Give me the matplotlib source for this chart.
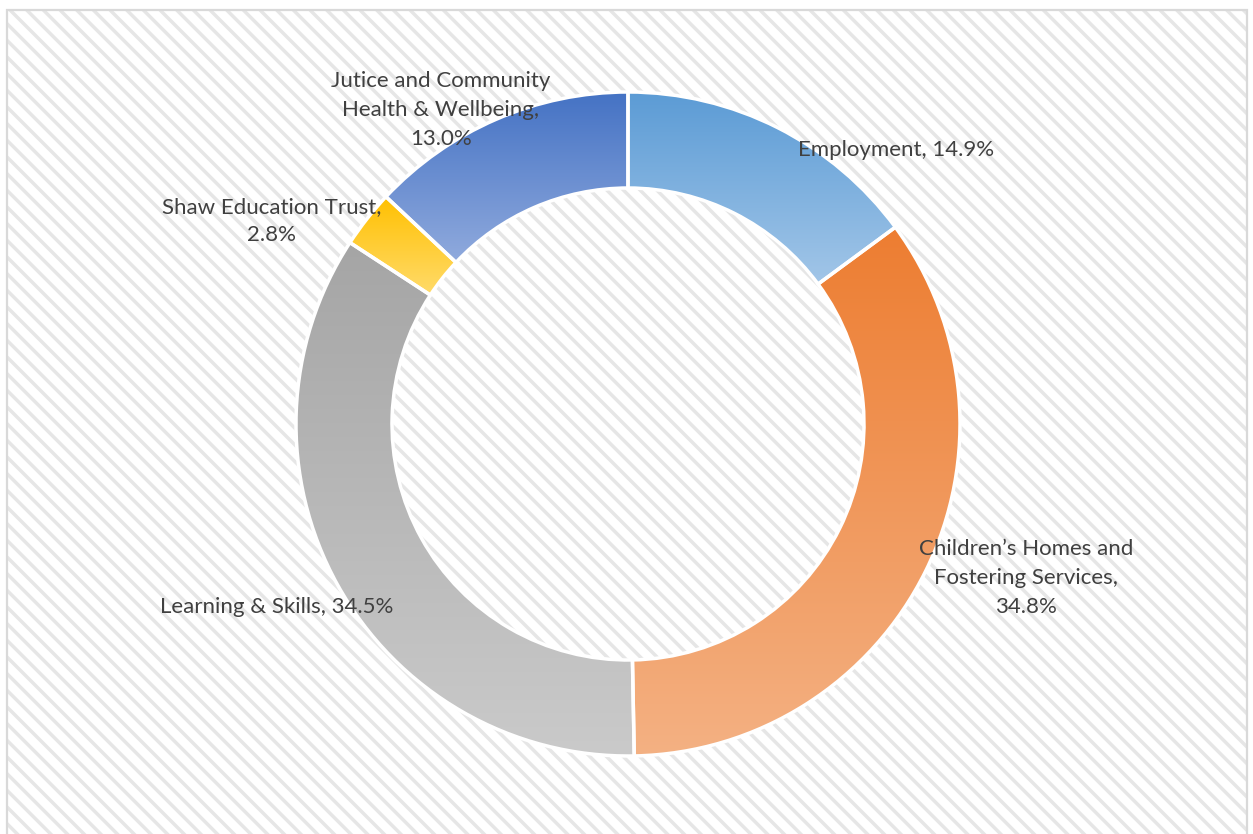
import numpy as np
import matplotlib
matplotlib.use("Agg")
import matplotlib.pyplot as plt
import matplotlib.patches as mpatches
from matplotlib.colors import LinearSegmentedColormap

# data
categories = ["Employment", "Children\u2019s Homes and Fostering Services", "Learning & Skills",
              "Shaw Education Trust", "Jutice and Community Health & Wellbeing"]
shares = [14.9, 34.8, 34.5, 2.8, 13.0]
label_texts = ["Employment, 14.9%",
               "Children\u2019s Homes and\nFostering Services,\n34.8%",
               "Learning & Skills, 34.5%",
               "Shaw Education Trust,\n2.8%",
               "Jutice and Community\nHealth & Wellbeing,\n13.0%"]
top_colors = ["#5B9BD5", "#ED7D31", "#A5A5A5", "#FFC000", "#4472C4"]
bottom_colors = ["#A2C6E8", "#F4B183", "#CACACA", "#FFDB6B", "#90AADD"]

W, H = 1253, 834
fig = plt.figure(figsize=(W / 100, H / 100), dpi=100)
ax = fig.add_axes([0, 0, 1, 1])

plt.rcParams['hatch.linewidth'] = 2.5

# background: hatched chart area with light grey frame
bg = mpatches.Rectangle((7, -10), 1240, 834, facecolor="white", edgecolor="#E6E6E6",
                        hatch="\\\\", linewidth=0, zorder=0)
ax.add_patch(bg)
frame = mpatches.Rectangle((7, -10), 1240, 834, facecolor="none", edgecolor="#D9D9D9",
                           linewidth=1.6, zorder=5)
ax.add_patch(frame)

cx, cy, R = 628, H - 424, 332
wedges, _ = ax.pie(shares, startangle=90, counterclock=False, radius=R, center=(cx, cy),
                   wedgeprops=dict(width=96, edgecolor="white", linewidth=2.5, facecolor="none"))

# vertical gradient per wedge, clipped to the wedge shape
for w, c0, c1 in zip(wedges, top_colors, bottom_colors):
    w.set_zorder(3)
    bb = w.get_path().get_extents(w.get_patch_transform())
    cmap = LinearSegmentedColormap.from_list("g", [c1, c0])
    grad = np.linspace(0, 1, 256).reshape(-1, 1)
    im = ax.imshow(grad, cmap=cmap, origin="lower", aspect="auto",
                   extent=(bb.x0, bb.x1, bb.y0, bb.y1), zorder=2, interpolation="bilinear")
    im.set_clip_path(w)

# data labels
label_pos = [(896, 150), (1026, 578), (277, 607), (272, 221), (441, 110)]
for (x, y), t in zip(label_pos, label_texts):
    ax.text(x, H - y, t, ha="center", va="center", fontsize=16, color="#404040",
            family=["Lato", "DejaVu Sans"], linespacing=1.55, zorder=6)

ax.set_xlim(0, W)
ax.set_ylim(0, H)
ax.set_aspect("auto")
ax.axis("off")

fig.savefig("out.png", dpi=100)
